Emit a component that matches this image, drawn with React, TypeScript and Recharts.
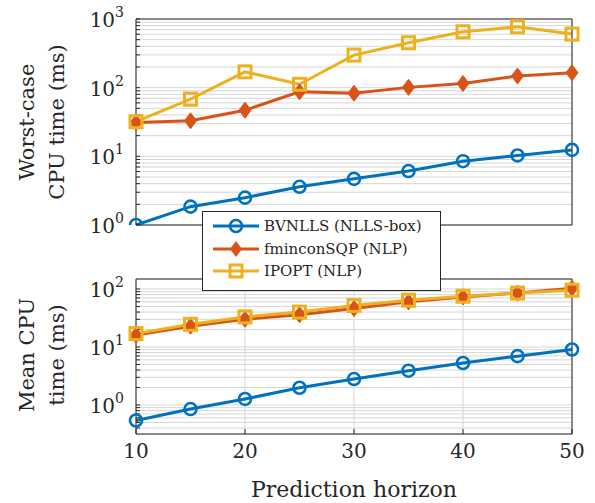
import React from 'react';
import { LineChart, Line, XAxis, YAxis, CartesianGrid } from 'recharts';

const horizon = [10, 15, 20, 25, 30, 35, 40, 45, 50];

const worstBvnlls = [1.0, 1.85, 2.5, 3.6, 4.7, 6.1, 8.5, 10.3, 12.4];
const worstFmincon = [31, 33, 47, 87, 83, 101, 115, 148, 165];
const worstIpopt = [32, 68, 170, 112, 298, 451, 652, 771, 603];

const meanBvnlls = [0.54, 0.85, 1.27, 1.98, 2.8, 3.9, 5.3, 6.95, 9.06];
const meanFmincon = [16, 22.8, 30, 36, 46, 60, 73, 85, 103];
const meanIpopt = [17, 24.6, 33, 40, 52, 64, 75, 85, 95];

const seriesNames = ['BVNLLS (NLLS-box)', 'fminconSQP (NLP)', 'IPOPT (NLP)'];

const topXTicks = [10, 15, 20, 25, 30, 35, 40, 45, 50];
const bottomXTicks = [10, 20, 30, 40, 50];

// log ticks: decades get a label, the rest only grid lines
const logTicks = (from: number, to: number) => {
    const out: number[] = [];
    for (let e = from; e <= to; e++) {
        for (let m = 1; m <= 9; m++) out.push(Number((m * Math.pow(10, e)).toPrecision(3)));
    }
    return out;
};
const topYTicks = logTicks(0, 2).concat([1000]);
const bottomYTicks = logTicks(-1, 1).filter(v => v >= 0.4).concat([100]);

const BLUE = '#0072BD';
const ORANGE = '#D95319';
const YELLOW = '#EDB120';
const INK = '#262626';
const FONT = '"DejaVu Serif", serif';

const worstData = horizon.map((h, i) => ({ h, a: worstBvnlls[i], b: worstFmincon[i], c: worstIpopt[i] }));
const meanData = horizon.map((h, i) => ({ h, a: meanBvnlls[i], b: meanFmincon[i], c: meanIpopt[i] }));

const CircleDot = (p: any) => (
    <circle key={`a-${p.index}`} cx={p.cx} cy={p.cy} r={6} fill="none" stroke={BLUE} strokeWidth={2.6} />
);
const DiamondDot = (p: any) => (
    <path key={`b-${p.index}`} d={`M${p.cx},${p.cy - 8} L${p.cx + 6},${p.cy} L${p.cx},${p.cy + 8} L${p.cx - 6},${p.cy} Z`} fill={ORANGE} stroke={ORANGE} strokeWidth={1} />
);
const SquareDot = (p: any) => (
    <rect key={`c-${p.index}`} x={p.cx - 6} y={p.cy - 6} width={12} height={12} fill="none" stroke={YELLOW} strokeWidth={3} />
);

const YTick = (p: any) => {
    const v = p.payload.value;
    const e = Math.log10(v);
    if (Math.abs(e - Math.round(e)) > 1e-6) return <g />;
    return (
        <text x={p.x} y={p.y} dy={8} textAnchor="end" fill={INK} fontFamily={FONT} fontSize={20}>
            <tspan>10</tspan>
            <tspan dy={-10} fontSize={14}>{Math.round(e)}</tspan>
        </text>
    );
};

const Panel = ({ data, height, domain, yTicks, xTicks, showX }: any) => (
    <LineChart width={595} height={height} data={data} margin={{ top: 18, right: 22, left: 76, bottom: showX ? 6 : 14 }}>
        <CartesianGrid stroke="#d6d6d6" strokeWidth={1} />
        <XAxis
            dataKey="h" type="number" domain={[10, 50]} ticks={xTicks} interval={0}
            height={showX ? 40 : 1} stroke={INK} tickSize={-5} tickMargin={15}
            tick={showX ? { fontSize: 20, fill: INK, fontFamily: FONT } : false}
        />
        <XAxis xAxisId="top" orientation="top" dataKey="h" type="number" domain={[10, 50]} ticks={xTicks}
            height={1} stroke={INK} tick={false} tickSize={-5} />
        <YAxis
            scale="log" domain={domain} allowDataOverflow ticks={yTicks} interval={0}
            width={60} stroke={INK} tickSize={-4} tickMargin={16} tick={<YTick />}
        />
        <YAxis yAxisId="right" orientation="right" scale="log" domain={domain} allowDataOverflow ticks={yTicks}
            interval={0} width={1} stroke={INK} tickSize={-4} tick={false} />
        <Line dataKey="a" stroke={BLUE} strokeWidth={3} dot={CircleDot} isAnimationActive={false} />
        <Line dataKey="b" stroke={ORANGE} strokeWidth={3} dot={DiamondDot} isAnimationActive={false} />
        <Line dataKey="c" stroke={YELLOW} strokeWidth={3} dot={SquareDot} isAnimationActive={false} />
    </LineChart>
);

const LegendMarker = ({ kind, color }: { kind: string; color: string }) => (
    <svg width={48} height={20} style={{ display: 'block' }}>
        <line x1={1} y1={10} x2={47} y2={10} stroke={color} strokeWidth={3} />
        {kind === 'circle' && <circle cx={24} cy={10} r={6} fill="none" stroke={color} strokeWidth={2.6} />}
        {kind === 'diamond' && <path d="M24,2 L30,10 L24,18 L18,10 Z" fill={color} />}
        {kind === 'square' && <rect x={18} y={4} width={12} height={12} fill="none" stroke={color} strokeWidth={3} />}
    </svg>
);

const YTitle = ({ lines, cy }: { lines: string[]; cy: number }) => (
    <div style={{
        position: 'absolute', left: 42 - 110, top: cy - 30, width: 220, height: 60,
        transform: 'rotate(-90deg)', textAlign: 'center', lineHeight: '30px',
        fontFamily: FONT, fontSize: 21, color: INK,
    }}>
        {lines.map(l => <div key={l}>{l}</div>)}
    </div>
);

export default function App() {
    const markers = [['circle', BLUE], ['diamond', ORANGE], ['square', YELLOW]];
    return (
        <div style={{ position: 'absolute', left: 0, top: 0, width: 595, height: 503, background: '#fff', overflow: 'hidden' }}>
            <div style={{ position: 'absolute', left: 0, top: 0 }}>
                <Panel data={worstData} height={240} domain={[1, 1000]} yTicks={topYTicks} xTicks={topXTicks} showX={false} />
            </div>
            <div style={{ position: 'absolute', left: 0, top: 260 }}>
                <Panel data={meanData} height={220} domain={[0.316, 148.6]} yTicks={bottomYTicks} xTicks={bottomXTicks} showX />
            </div>
            <YTitle lines={['Worst-case', 'CPU time (ms)']} cy={122} />
            <YTitle lines={['Mean CPU', 'time (ms)']} cy={355} />
            <div style={{
                position: 'absolute', left: 0, top: 477, width: 708, textAlign: 'center',
                fontFamily: FONT, fontSize: 22, color: INK,
            }}>
                Prediction horizon
            </div>
            <div style={{
                position: 'absolute', left: 202, top: 211, width: 237, height: 75,
                border: `1px solid ${INK}`, background: '#fff', boxSizing: 'content-box',
                fontFamily: FONT, fontSize: 15, color: INK, paddingTop: 3,
            }}>
                {seriesNames.map((name, i) => (
                    <div key={name} style={{ display: 'flex', alignItems: 'center', height: 22.5, marginLeft: 9 }}>
                        <LegendMarker kind={markers[i][0]} color={markers[i][1]} />
                        <span style={{ marginLeft: 4 }}>{name}</span>
                    </div>
                ))}
            </div>
        </div>
    );
}
